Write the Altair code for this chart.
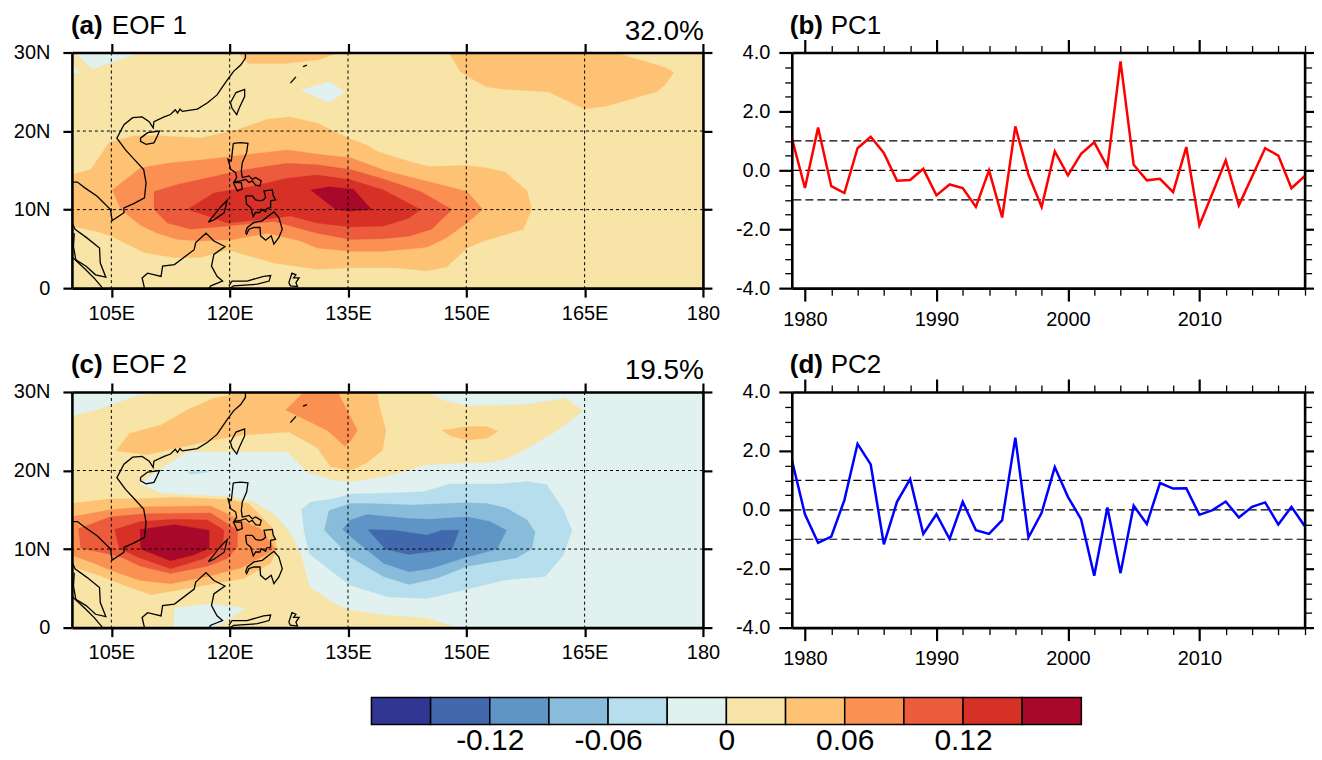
import altair as alt
import pandas as pd

FONT = "Liberation Sans"
COLORS = ["#313695", "#4269ae", "#5f94c6", "#88bcda", "#b6deed", "#e0f1f0",
          "#f7e4a6", "#fdc273", "#fa9153", "#ec5b3c", "#d73027", "#a8092a"]
BAR_EDGES = [-0.18, -0.15, -0.12, -0.09, -0.06, -0.03, 0, 0.03, 0.06, 0.09, 0.12, 0.15, 0.18]
BAR_LABELS = [-0.12, -0.06, 0, 0.06, 0.12]

YEARS = list(range(1979, 2019))
PC1 = [1.1, -0.6, 1.45, -0.54, -0.77, 0.75, 1.14, 0.59, -0.35, -0.33, 0.05, -0.85, -0.48, -0.6,
       -1.24, 0.0, -1.6, 1.49, -0.15, -1.24, 0.64, -0.17, 0.56, 0.95, 0.12, 3.7, 0.19, -0.34,
       -0.29, -0.74, 0.79, -1.86, -0.77, 0.34, -1.19, -0.22, 0.75, 0.5, -0.61, -0.2]
PC2 = [1.7, -0.15, -1.12, -0.91, 0.33, 2.24, 1.54, -1.17, 0.27, 1.04, -0.82, -0.15, -0.99, 0.27,
       -0.69, -0.82, -0.35, 2.45, -0.94, -0.1, 1.45, 0.44, -0.32, -2.24, 0.08, -2.15, 0.14, -0.48,
       0.91, 0.72, 0.73, -0.17, -0.01, 0.28, -0.26, 0.1, 0.25, -0.5, 0.1, -0.55]

# EOF 1 contour regions: (lon, lat)
E1_BLUE_A = [(100.4, 30), (102.6, 27.9), (107.9, 29.7), (108.7, 30)]
E1_BLUE_B = [(100, 28.4), (101, 27.5), (100, 27.3)]
E1_BLUE_C = [(129.0, 25.2), (132.6, 26.3), (134.6, 25.0), (132.6, 23.6)]
E1_OR_TOP = [(121.0, 30), (122.4, 28.6), (126.9, 28.6), (131.5, 29.1), (133.7, 30)]
E1_OR_NE = [(147.8, 30), (149.2, 27.6), (150.1, 27.0), (152.6, 25.6), (155.1, 25.3), (160.4, 25.0),
            (165.0, 22.8), (167.8, 23.2), (174.1, 25), (175.2, 25.9), (176.3, 27.5), (175.2, 28.1),
            (169.1, 29.9), (168.2, 30)]
E1_L1 = [(100, 14.4), (102.4, 15.1), (104.7, 18.5), (107.9, 19.4), (110.8, 19.4), (116.3, 19.1),
         (120.5, 20.0), (124.8, 21.5), (127.7, 21.8), (131.1, 21.0), (135.3, 19.0), (137.4, 18.2),
         (138.7, 17.4), (142.9, 16.1), (145.2, 15.5), (150.1, 15.6), (152.6, 15.3), (154.9, 14.8),
         (157.7, 12.4), (158.3, 10), (157.2, 7.5), (152.2, 6), (150.1, 5.1), (147.5, 2.7),
         (145, 2.2), (140.8, 2.6), (135.3, 2.6), (131.1, 2.4), (125.6, 3.2), (119.7, 4.9),
         (116.3, 3.9), (113, 3.9), (109.2, 4.5), (105, 6.6), (103.2, 7.2), (100, 7.9)]
E1_L2 = [(105.1, 12.5), (108.7, 15.3), (112.1, 15.9), (117.2, 16.4), (120.5, 16.8), (123.9, 17.2),
         (127.3, 17.6), (131.5, 17.0), (135.3, 16.6), (139.9, 14.9), (145, 13.6), (150.1, 12.3),
         (152.1, 10), (150.1, 8.3), (147.5, 6.4), (145, 5.2), (139.5, 4.7), (135.3, 4.7),
         (131.1, 5.1), (129, 6), (124.8, 7), (120.5, 6.2), (116.3, 6), (113.4, 6.2),
         (110.8, 7), (108.7, 8), (106.2, 10)]
E1_L3 = [(110.4, 12.3), (113.4, 13.2), (118, 14.2), (121.4, 15), (127.3, 15.9), (131.1, 15.7),
         (135.3, 15.1), (139.5, 13.9), (144.2, 12.3), (148.2, 10), (145.6, 7.5), (142.7, 6.6),
         (139.5, 6.3), (135.3, 6.2), (131.1, 7), (125.6, 8.5), (119.7, 7.9), (115.1, 7.5),
         (112.1, 8.3), (110.4, 10)]
E1_L4 = [(114.6, 10), (118, 12.1), (123.1, 13.0), (127.3, 14.0), (131.1, 14.4), (135.3, 13.8),
         (139.5, 12.5), (144.2, 10), (142.7, 8.9), (139.5, 7.9), (135.3, 7.8), (131.1, 8.3),
         (127.7, 9.2), (123.9, 8.7), (119.7, 8.3), (117.2, 9.2)]
E1_L5 = [(130.25, 12.5), (132.6, 12.9), (135.7, 12.6), (136.4, 11.8), (138.0, 10), (135.3, 9.8), (133.4, 10)]

# EOF 2 contour regions
E2_YELLOW = [(100, 26.9), (103.2, 27.7), (107.9, 29.4), (110.8, 30), (138.7, 30), (145.2, 30),
             (147.1, 28.9), (150.1, 28.2), (157.7, 28.4), (162.5, 29.2), (164.8, 27.6), (161.5, 25.1),
             (157.7, 22.8), (155.1, 21.5), (152.6, 21), (150.1, 21), (144.6, 20.7), (142.5, 20),
             (139.5, 19.2), (135.3, 18.6), (133.2, 18.8), (129.8, 19.8), (127.3, 22.4), (120.5, 22.4),
             (114.6, 22.4), (111.3, 20.3), (108.5, 18.3), (111.3, 17.1), (114.6, 16.9), (120, 16.7),
             (123.1, 16), (126, 14.1), (127.7, 12), (129, 9.4), (130.1, 5.2), (133.2, 3.1),
             (135.3, 2.2), (139.5, 1.6), (145, 1.2), (148.2, 0.2), (148.4, 0), (100, 0)]
E2_BLUE_S = [(112.9, 0), (113, 2.5), (117.6, 3), (122, 2.5), (120.1, 1.2), (118, 0)]
E2_BLUE_T = [(114.6, 19.8), (116.3, 20), (117.4, 19.8), (115.1, 19.5)]
E2_OR_N = [(105.6, 22.5), (107.3, 24.7), (111.3, 25.8), (114.6, 27.7), (118, 29.2), (122, 30),
           (138.7, 30), (139, 28.1), (139.8, 25.1), (139.4, 22.6), (137.4, 21), (135.3, 20),
           (132.8, 20.5), (131.1, 22.9), (127.5, 24.9), (121.4, 24.5), (118, 23.9), (113, 22.8),
           (109.5, 22)]
E2_OR_D = [(127.1, 27.7), (129.4, 30), (133.7, 30), (136.2, 25.1), (135.3, 23.7), (134.6, 23.1),
           (132.4, 25.1), (127.1, 27.7)]
E2_OR_E = [(146.9, 25.1), (150.1, 25.6), (152.6, 25.6), (154, 25), (152.6, 24.1), (150.1, 23.9), (148, 24.4)]
E2_R1 = [(100, 15.8), (104.9, 16.4), (108.7, 16.4), (113.4, 16.6), (119.7, 16.3), (122.4, 15.8),
         (125.4, 12.7), (126, 10), (125.2, 8.2), (121.9, 6.3), (118, 5.6), (110.1, 4.2),
         (106.6, 5.4), (103.6, 6.6), (100, 7.8)]
E2_R2 = [(100, 14.1), (104.9, 15), (109.2, 15.4), (117.6, 15.5), (120.5, 14.1), (123.9, 12.6),
         (125.8, 10), (123.9, 8.9), (121.4, 7.6), (117.2, 6.5), (112.5, 5.6), (108.7, 6), (105.4, 7.1),
         (102.8, 8.2), (100, 9.2)]
E2_R3 = [(100.8, 12.6), (104.9, 14.1), (109.2, 14.5), (117.6, 14.6), (119.3, 13.5), (121, 12.4),
         (121, 10.3), (119.7, 8.8), (117.2, 7.8), (112.5, 6.9), (108.7, 7.8), (106.2, 9), (104.5, 9.4),
         (101.1, 10.1)]
E2_R4 = [(105.4, 12.5), (108.7, 13.5), (113, 13.8), (117.2, 13.7), (119.3, 12.4), (119.1, 10.3),
         (116.8, 8.8), (112.5, 7.5), (108.3, 9), (106, 10.1)]
E2_R5 = [(108.6, 12.5), (113, 13.1), (117.4, 12.4), (117.4, 10.1), (115.3, 9.2), (112.5, 8.5), (108.7, 10)]
E2_B1 = [(129.1, 15), (130.25, 16), (133.2, 16.4), (135.3, 17), (139.5, 17.1), (144.6, 17.3), (147.9, 18.3),
         (150.1, 18.3), (154.3, 18.3), (157.7, 18.6), (160.2, 18.2), (162.3, 15), (163.4, 12.4),
         (162.3, 9.2), (160, 6.5), (155.1, 6.1), (150.1, 4.9), (145, 3.7), (140.1, 3.9), (135.3, 5.4),
         (133.8, 6.5), (130.1, 9.4), (129.4, 12.4)]
E2_B2 = [(132, 12.4), (132.6, 14.9), (135.3, 15.8), (137.8, 15.8), (142.9, 15.6), (145, 15.7),
         (150.1, 15.9), (152.6, 15.8), (155.1, 15.2), (157.7, 13.7), (158.7, 12.2), (158.3, 10),
         (156.4, 8.9), (150.1, 7.8), (146.3, 6.3), (142.7, 5.5), (139.5, 6.5), (135.3, 9)]
E2_B3 = [(134.3, 12.5), (135.3, 13.7), (137.4, 14.4), (142.7, 13.9), (145.4, 13.8), (150.1, 14.1),
         (153, 13.5), (155.1, 12.4), (153.9, 10), (150.1, 9), (145.4, 7.5), (142.7, 7.1), (139.5, 8.2), (135.3, 11.6)]
E2_B4 = [(137.5, 12.5), (140.8, 12.4), (145, 11.8), (146.9, 12.4), (149.1, 12.4), (148.2, 10), (142.7, 9.3), (139.7, 10)]

# Coastlines
C_MAIN = [(122.0, 30), (122.0, 29.3), (121.4, 28.4), (120.5, 27.6), (119.7, 26.5), (118.4, 24.6), (117.2, 23.6),
          (115.9, 22.8), (114, 22.5), (113.7, 22.8), (113.4, 22.3), (113.1, 22.7), (112.5, 22.1), (111.7, 21.8),
          (110.4, 21.2), (110.3, 20.4), (109.8, 21.2), (108.9, 21.8), (107.7, 21.7), (106.6, 20.8), (105.7, 19.1),
          (106.8, 17.6), (107.9, 16.4), (109.1, 15.1), (109.4, 13.4), (109.2, 11.5), (107.9, 10.8), (106.6, 10.2),
          (106.6, 9.6), (105.1, 8.6), (104.9, 10), (103.2, 11.7), (101.6, 12.8), (100.7, 13.5), (100, 13.5)]
C_MALAY_A = [(100, 8.4), (100.4, 7.5), (101.9, 6.4), (103.5, 5.1), (103.6, 3.2), (104.3, 1.4), (103.0, 1.7),
             (101.8, 2.8), (100.5, 3.6), (100.2, 5.3), (100.3, 7)]
C_MALAY_B = [(100, 4), (101.6, 2.5), (102.8, 1.3), (103.9, 0)]
C_BORNEO = [(109.2, 0), (108.9, 1.3), (109.6, 1.9), (111.3, 1.5), (111.5, 2.8), (113, 3), (115.5, 4.9), (115.7, 5.8),
            (117, 7), (118, 6), (119.4, 5.3), (118, 4.3), (117.7, 2.8), (118.4, 1.5), (119.1, 0.9), (117.6, 0.3), (117.4, 0)]
C_SULAWESI = [(119.9, 0.3), (120.3, 0.9), (122.2, 0.9), (124.3, 1.5), (125.2, 1.6), (125, 0.9), (123.5, 0.5), (120.5, 0.3), (120.1, 0)]
C_HALMAHERA = [(127.5, 0.7), (127.9, 1.9), (128.4, 1.7), (128.1, 1.3), (128.8, 1.3), (128.4, 0.7), (128.6, 0.2), (127.7, 0.3), (127.5, 0.7)]
C_HAINAN = [(108.7, 19.1), (109.6, 19.8), (111.1, 20), (110.8, 19.3), (110.4, 18.5), (109.4, 18.3), (108.7, 18.7), (108.7, 19.1)]
C_TAIWAN = [(120.1, 23.6), (120.8, 24.9), (121.9, 25.3), (121.9, 24.4), (121.2, 22.9), (120.9, 22.1), (120.3, 22.9), (120.1, 23.6)]
C_LUZON = [(120.46, 18.44), (121.39, 18.53), (122.32, 18.44), (122.15, 17.25), (121.6, 15.98), (121.48, 14.92), (121.6, 14.08),
           (122.45, 14.29), (122.87, 13.86), (123.29, 14.08), (124.0, 13.65), (123.84, 13.02), (123.29, 13.1), (122.87, 13.65),
           (122.45, 13.44), (122.02, 13.86), (121.39, 13.65), (120.55, 13.53), (120.89, 14.08), (120.76, 14.71), (120.13, 15.14),
           (119.79, 16.41), (120.21, 16.2), (120.46, 18.44)]
C_MINDORO = [(120.46, 13.44), (121.48, 13.44), (121.6, 12.6), (120.97, 12.38), (120.46, 13.44)]
C_PALAWAN = [(117.3, 8.4), (118.9, 10.4), (119.7, 11.2), (119.3, 9.6), (118, 8.7), (117.3, 8.4)]
C_VISAYAS = [(122.02, 11.75), (122.87, 11.75), (123.29, 11.24), (123.84, 11.11), (124.26, 11.24), (124.56, 11.53), (124.35, 12.38),
             (125.4, 12.51), (125.53, 11.75), (125.82, 11.24), (125.19, 11.11), (125.19, 10.26), (124.68, 10.14), (124.56, 9.71),
             (124.0, 10.05), (123.84, 9.63), (123.29, 9.63), (122.99, 9.12), (122.66, 10.26), (122.15, 10.69), (122.02, 11.75)]
C_MINDANAO = [(122.02, 7.08), (122.24, 7.72), (123.08, 8.36), (124.13, 8.57), (125.19, 9.4), (125.61, 9.71), (126.24, 8.99),
              (126.67, 7.51), (126.24, 6.45), (125.61, 5.6), (125.27, 6.66), (124.56, 6.11), (123.92, 6.66), (123.84, 7.72),
              (123.08, 7.72), (122.45, 7.51), (122.15, 6.87), (122.02, 7.08)]
C_RYUKYU_A = [(127.7, 26.1), (128.4, 26.9)]
C_RYUKYU_B = [(129.3, 28.2), (129.8, 28.4)]
COASTS = [C_MAIN, C_MALAY_A, C_MALAY_B, C_BORNEO, C_SULAWESI, C_HALMAHERA, C_HAINAN, C_TAIWAN, C_LUZON,
          C_MINDORO, C_PALAWAN, C_VISAYAS, C_MINDANAO, C_RYUKYU_A, C_RYUKYU_B]

GRID_LON = [105, 120, 135, 150, 165]
GRID_LAT = [10, 20]
TICK_LON = [105, 120, 135, 150, 165, 180]
TICK_LAT = [0, 10, 20, 30]
PC_MAJOR_X = [1980, 1990, 2000, 2010]
PC_MINOR_X = [y for y in range(1980, 2019, 2) if y % 10]
PC_MAJOR_Y = [-4, -2, 0, 2, 4]
PC_MINOR_Y = [-3.5, -3, -2.5, -1.5, -1, -0.5, 0.5, 1, 1.5, 2.5, 3, 3.5]
PC_REF = [-1, 0, 1]

MAP_W, PC_W, H = 632, 513.6, 236
BLACK = "#000000"


def axis(orient, values, size, labels=None, domain=True, width=2.2, pad=6):
    cfg = dict(orient=orient, values=values, title=None, tickSize=size, tickWidth=width, tickColor=BLACK,
               domain=domain, domainWidth=2.6, domainColor=BLACK, grid=False, zindex=1)
    if labels:
        cfg.update(labelExpr=labels, labelFont=FONT, labelFontSize=20, labelColor=BLACK, labelPadding=pad,
                   labelOverlap=False, labelFlush=False, labelBound=False)
    else:
        cfg.update(labels=False)
    return alt.Axis(**cfg)


def axis_layer(xs, ys, x_axis, y_axis):
    frame = pd.DataFrame({"x": [xs.domain[0]], "y": [ys.domain[0]]})
    return alt.Chart(frame).mark_point(opacity=0).encode(
        x=alt.X("x:Q", scale=xs, axis=x_axis), y=alt.Y("y:Q", scale=ys, axis=y_axis))


def poly(points, color, xs, ys):
    frame = pd.DataFrame({"lon": [p[0] for p in points], "lat": [p[1] for p in points], "i": range(len(points))})
    return alt.Chart(frame).mark_line(fill=color, stroke=color, strokeWidth=0.3, clip=True).encode(
        x=alt.X("lon:Q", scale=xs, axis=None), y=alt.Y("lat:Q", scale=ys, axis=None), order="i:Q")


def label(text, x, y, size, bold=False, align="left"):
    frame = pd.DataFrame({"t": [text]})
    return alt.Chart(frame).mark_text(font=FONT, fontSize=size, fontWeight="bold" if bold else "normal", align=align,
                                      baseline="alphabetic", color=BLACK).encode(
        x=alt.value(x), y=alt.value(y), text="t:N")


def map_panel(background, regions, tag, name, pct):
    xs = alt.Scale(domain=[100, 180], nice=False, zero=False)
    ys = alt.Scale(domain=[0, 30], nice=False, zero=False)
    layers = [poly([(100, 0), (180, 0), (180, 30), (100, 30)], background, xs, ys)]
    layers += [poly(pts, col, xs, ys) for pts, col in regions]
    rows = [{"c": k, "lon": p[0], "lat": p[1], "i": i} for k, c in enumerate(COASTS) for i, p in enumerate(c)]
    layers.append(alt.Chart(pd.DataFrame(rows)).mark_line(color=BLACK, strokeWidth=1.3, clip=True).encode(
        x=alt.X("lon:Q", scale=xs, axis=None), y=alt.Y("lat:Q", scale=ys, axis=None), detail="c:N", order="i:Q"))
    layers.append(alt.Chart(pd.DataFrame({"lon": GRID_LON})).mark_rule(color=BLACK, strokeWidth=1, strokeDash=[3, 3]).encode(
        x=alt.X("lon:Q", scale=xs, axis=None)))
    layers.append(alt.Chart(pd.DataFrame({"lat": GRID_LAT})).mark_rule(color=BLACK, strokeWidth=1, strokeDash=[3, 3]).encode(
        y=alt.Y("lat:Q", scale=ys, axis=None)))
    lon_lab = "datum.value == 180 ? '180' : datum.value + 'E'"
    lat_lab = "datum.value == 0 ? '0' : datum.value + 'N'"
    layers.append(axis_layer(xs, ys, axis("bottom", TICK_LON, 9, lon_lab), axis("left", TICK_LAT, 9, lat_lab, pad=13)))
    layers.append(axis_layer(xs, ys, axis("top", TICK_LON, 9), axis("right", TICK_LAT, 9)))
    layers.append(label(tag, -1, -19, 26, bold=True))
    layers.append(label(name, 40, -19, 26))
    layers.append(label(pct, MAP_W + 1, -13, 28, align="right"))
    return alt.layer(*layers).resolve_axis(x="independent", y="independent").properties(width=MAP_W, height=H)


def pc_panel(values, color, tag, name):
    xs = alt.Scale(domain=[1979, 2018], nice=False, zero=False)
    ys = alt.Scale(domain=[-4, 4], nice=False, zero=False)
    ylab = "datum.value < 0 ? '-' + format(abs(datum.value), '.1f') : format(datum.value, '.1f')"
    frame = pd.DataFrame({"year": YEARS, "v": values})
    layers = [
        alt.Chart(pd.DataFrame({"v": PC_REF})).mark_rule(color=BLACK, strokeWidth=1.2, strokeDash=[8, 4]).encode(
            y=alt.Y("v:Q", scale=ys, axis=None)),
        alt.Chart(frame).mark_line(color=color, strokeWidth=2.5, clip=True).encode(
            x=alt.X("year:Q", scale=xs, axis=None), y=alt.Y("v:Q", scale=ys, axis=None)),
        axis_layer(xs, ys, axis("bottom", PC_MAJOR_X, 13, "format(datum.value, 'd')", pad=8), axis("left", PC_MAJOR_Y, 13, ylab, pad=9)),
        axis_layer(xs, ys, axis("top", PC_MAJOR_X, 13), axis("right", PC_MAJOR_Y, 13)),
        axis_layer(xs, ys, axis("bottom", PC_MINOR_X, 7, domain=False, width=1.3), axis("left", PC_MINOR_Y, 7, domain=False, width=1.3)),
        axis_layer(xs, ys, axis("top", PC_MINOR_X, 7, domain=False, width=1.3), axis("right", PC_MINOR_Y, 7, domain=False, width=1.3)),
        label(tag, -2, -19, 26, bold=True),
        label(name, 39, -19, 26),
    ]
    return alt.layer(*layers).resolve_axis(x="independent", y="independent").properties(width=PC_W, height=H)


EOF1 = [(E1_BLUE_A, COLORS[5]), (E1_BLUE_B, COLORS[5]), (E1_BLUE_C, COLORS[5]), (E1_OR_TOP, COLORS[7]), (E1_OR_NE, COLORS[7]),
        (E1_L1, COLORS[7]), (E1_L2, COLORS[8]), (E1_L3, COLORS[9]), (E1_L4, COLORS[10]), (E1_L5, COLORS[11])]
EOF2 = [(E2_YELLOW, COLORS[6]), (E2_BLUE_S, COLORS[5]), (E2_BLUE_T, COLORS[4]), (E2_OR_N, COLORS[7]), (E2_OR_D, COLORS[8]),
        (E2_OR_E, COLORS[7]), (E2_R1, COLORS[7]), (E2_R2, COLORS[8]), (E2_R3, COLORS[9]), (E2_R4, COLORS[10]), (E2_R5, COLORS[11]),
        (E2_B1, COLORS[4]), (E2_B2, COLORS[3]), (E2_B3, COLORS[2]), (E2_B4, COLORS[1])]

bar_x = alt.Scale(domain=[BAR_EDGES[0], BAR_EDGES[-1]], nice=False, zero=False)
bar_frame = pd.DataFrame({"a": BAR_EDGES[:-1], "b": BAR_EDGES[1:], "c": COLORS})
colorbar = alt.Chart(bar_frame).mark_rect(stroke=BLACK, strokeWidth=1.5).encode(
    x=alt.X("a:Q", scale=bar_x, axis=alt.Axis(
        values=BAR_LABELS, title=None, domain=False, ticks=False, grid=False, labelFont=FONT, labelFontSize=30,
        labelColor=BLACK, labelPadding=1, labelOverlap=False, labelFlush=False,
        labelExpr="datum.value == 0 ? '0' : (datum.value < 0 ? '-' : '') + format(abs(datum.value), '.2f')")),
    x2="b:Q",
    fill=alt.Fill("c:N", scale=None),
).properties(width=711, height=27)

spacer = alt.Chart(pd.DataFrame({"a": [0]})).mark_point(opacity=0).encode(
    x=alt.value(0), y=alt.value(0)).properties(width=299, height=27)

row1 = alt.hconcat(map_panel(COLORS[6], EOF1, "(a)", "EOF 1", "32.0%"), pc_panel(PC1, "#ff0000", "(b)", "PC1"), spacing=15)
row2 = alt.hconcat(map_panel(COLORS[5], EOF2, "(c)", "EOF 2", "19.5%"), pc_panel(PC2, "#0000ff", "(d)", "PC2"), spacing=15)
row3 = alt.hconcat(spacer, colorbar, spacing=0)
maps = alt.vconcat(row1, row2, spacing=23)

chart = alt.vconcat(maps, row3, spacing=26).properties(
    padding={"left": 5, "top": 4, "right": -5, "bottom": 0}
).configure_view(stroke=None)

chart.save("out.html", embed_options={"renderer": "svg", "actions": False})
